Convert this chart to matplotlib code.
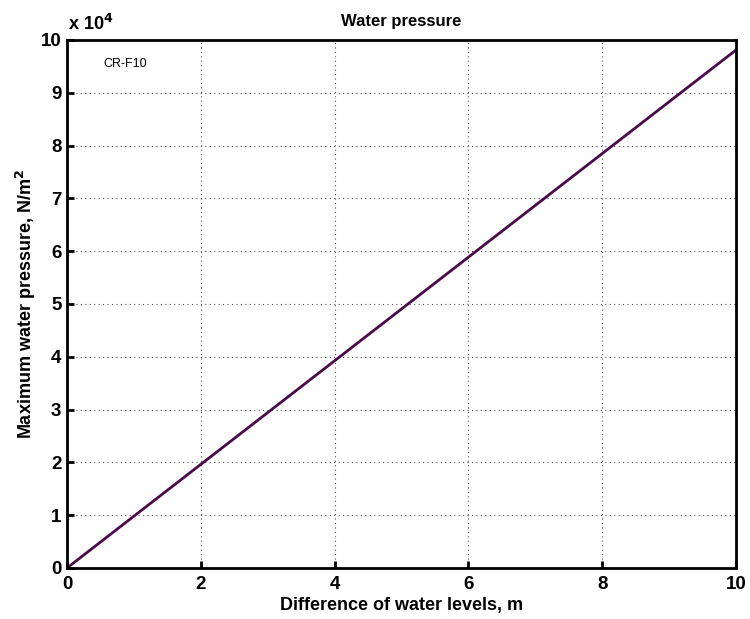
import matplotlib
matplotlib.use("Agg")
import matplotlib.pyplot as plt
from matplotlib.ticker import FuncFormatter

plt.rcParams['font.family'] = ['Liberation Sans', 'DejaVu Sans']

# difference of water levels (m) and max water pressure (N/m^2)
levels = [0, 2, 4, 6, 8, 10]
pressure = [0, 19620, 39240, 58860, 78480, 98100]
xticks = [0, 2, 4, 6, 8, 10]
yticks = [0, 1e4, 2e4, 3e4, 4e4, 5e4, 6e4, 7e4, 8e4, 9e4, 10e4]

fig = plt.figure(figsize=(7.5, 6.19), dpi=100)
ax = fig.add_axes([0.0893, 0.0824, 0.8920, 0.8530])

ax.plot(levels, pressure, color='#4a0a4a', linewidth=2)

ax.set_xlim(0, 10)
ax.set_ylim(0, 1e5)
ax.set_xticks(xticks)
ax.set_yticks(yticks)
ax.yaxis.set_major_formatter(FuncFormatter(lambda v, p: f"{v/1e4:g}"))
ax.tick_params(direction='in', length=5, width=2, labelsize=13.5)
ax.tick_params(axis='x', pad=6)
ax.tick_params(axis='y', pad=4)
for lab in ax.get_xticklabels() + ax.get_yticklabels():
    lab.set_fontweight('bold')
for s in ax.spines.values():
    s.set_linewidth(2)

ax.grid(True, linestyle=(0, (1, 3)), color='#555555', linewidth=0.8)

ax.set_title('Water pressure', fontsize=12, fontweight='bold', pad=10)
ax.set_xlabel('Difference of water levels, m', fontsize=13, fontweight='bold', labelpad=3)
ax.set_ylabel('Maximum water pressure, N/m$^\\mathbf{2}$', fontsize=13, fontweight='bold', labelpad=2)

fig.text(0.091, 0.945, 'x 10$^\\mathbf{4}$', fontsize=13, fontweight='bold', ha='left', va='bottom')
ax.text(0.55, 9.55e4, 'CR-F10', fontsize=9, va='center')

fig.savefig('out.png', dpi=100)
